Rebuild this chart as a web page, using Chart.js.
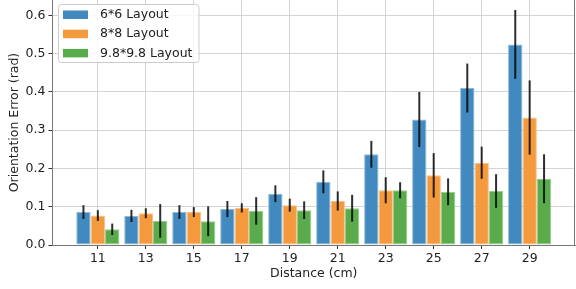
<!DOCTYPE html>
<html>
<head>
<meta charset="utf-8">
<script src="https://cdn.jsdelivr.net/npm/chart.js@4.4.1/dist/chart.umd.min.js"></script>
<style>
  html, body { margin: 0; padding: 0; background: #fff; }
  #wrap { width: 576px; height: 289px; }
</style>
</head>
<body>
<div id="wrap"><canvas id="orientation" width="576" height="289"></canvas></div>
<script>
// distances on the x axis (cm)
const distances = [11, 13, 15, 17, 19, 21, 23, 25, 27, 29];
const seriesNames = ['6*6 Layout', '8*8 Layout', '9.8*9.8 Layout'];

// mean orientation error (rad) and its spread
const layout6 = [0.086, 0.076, 0.086, 0.094, 0.134, 0.165, 0.237, 0.328, 0.410, 0.524];
const layout6Err = [0.018, 0.016, 0.018, 0.021, 0.022, 0.030, 0.035, 0.072, 0.064, 0.090];
const layout8 = [0.077, 0.083, 0.086, 0.097, 0.104, 0.115, 0.143, 0.182, 0.215, 0.333];
const layout8Err = [0.014, 0.013, 0.013, 0.012, 0.017, 0.025, 0.034, 0.058, 0.042, 0.097];
const layout98 = [0.041, 0.063, 0.062, 0.089, 0.091, 0.096, 0.143, 0.139, 0.141, 0.173];
const layout98Err = [0.015, 0.044, 0.039, 0.036, 0.023, 0.035, 0.021, 0.035, 0.044, 0.064];

const yTicks = [0, 0.1, 0.2, 0.3, 0.4, 0.5, 0.6];

const FONT = '"DejaVu Sans", "Liberation Sans", sans-serif';
const textColor = '#222';

const toPoints = (vals) => vals.map((v, i) => ({ x: distances[i], y: v }));

const errorBars = {
  id: 'errorBars',
  afterDatasetsDraw(chart, args, opts) {
    const { ctx } = chart;
    const yScale = chart.scales.y;
    ctx.save();
    ctx.strokeStyle = 'rgba(0,0,0,0.82)';
    ctx.lineWidth = 2;
    chart.data.datasets.forEach((ds, i) => {
      const meta = chart.getDatasetMeta(i);
      meta.data.forEach((bar, j) => {
        const v = ds.data[j].y, e = ds.errors[j];
        ctx.beginPath();
        ctx.moveTo(bar.x, yScale.getPixelForValue(v - e));
        ctx.lineTo(bar.x, yScale.getPixelForValue(v + e));
        ctx.stroke();
      });
    });
    ctx.restore();
  }
};

const frameAndLegend = {
  id: 'frameAndLegend',
  afterDraw(chart) {
    const { ctx, chartArea } = chart;
    ctx.save();
    // right spine
    ctx.strokeStyle = '#777';
    ctx.lineWidth = 1;
    ctx.beginPath();
    ctx.moveTo(chartArea.right - 0.5, chartArea.top);
    ctx.lineTo(chartArea.right - 0.5, chartArea.bottom);
    ctx.stroke();

    // legend inside the axes, upper left
    ctx.font = '12.5px ' + FONT;
    const items = chart.data.datasets;
    const textW = Math.max(...items.map(d => ctx.measureText(d.label).width));
    const x0 = chartArea.left + 5.5, y0 = chartArea.top + 4;
    const w = 42 + textW + 6, h = 58;
    ctx.beginPath();
    ctx.roundRect(x0 + 0.5, y0 + 0.5, w, h, 3);
    ctx.fillStyle = 'rgba(255,255,255,0.8)';
    ctx.fill();
    ctx.strokeStyle = '#cccccc';
    ctx.stroke();
    items.forEach((d, i) => {
      const cy = y0 + 10.5 + i * 19.2;
      ctx.fillStyle = d.backgroundColor;
      ctx.fillRect(x0 + 5, cy - 4, 25, 8.5);
      ctx.fillStyle = textColor;
      ctx.textBaseline = 'middle';
      ctx.textAlign = 'left';
      ctx.fillText(d.label, x0 + 42, cy + 0.5);
    });
    ctx.restore();
  }
};

const barStyle = (fill, edge) => ({
  backgroundColor: fill,
  borderColor: edge,
  borderWidth: 1,
  borderSkipped: false,
  categoryPercentage: 0.9,
  barPercentage: 1.0,
});

new Chart(document.getElementById('orientation').getContext('2d'), {
  type: 'bar',
  data: {
    datasets: [
      { label: seriesNames[0], data: toPoints(layout6), errors: layout6Err, ...barStyle('#4189bf', '#8db8da') },
      { label: seriesNames[1], data: toPoints(layout8), errors: layout8Err, ...barStyle('#f5993d', '#f9c08a') },
      { label: seriesNames[2], data: toPoints(layout98), errors: layout98Err, ...barStyle('#5aab4b', '#98cc8e') },
    ]
  },
  options: {
    responsive: false,
    animation: false,
    layout: { padding: { left: 0, right: 1, top: 0, bottom: 0 } },
    plugins: {
      legend: { display: false },
      tooltip: { enabled: false },
    },
    scales: {
      x: {
        type: 'linear',
        min: 9.11,
        max: 30.89,
        offset: false,
        afterBuildTicks: (scale) => { scale.ticks = distances.map(v => ({ value: v })); },
        afterFit: (scale) => { scale.height = 44; scale.paddingLeft = 0; scale.paddingRight = 0; },
        grid: { offset: false, color: '#d4d4d4', lineWidth: 1, tickColor: '#333', tickLength: 4, drawTicks: true },
        border: { color: '#777', width: 1 },
        ticks: { color: textColor, font: { family: FONT, size: 12.5 }, padding: 2, maxRotation: 0, autoSkip: false },
        title: { display: true, text: 'Distance (cm)', color: textColor, font: { family: FONT, size: 12.5 }, padding: { top: 0, bottom: 8 } },
      },
      y: {
        min: 0,
        max: 0.64,
        afterBuildTicks: (scale) => { scale.ticks = yTicks.map(v => ({ value: v })); },
        afterFit: (scale) => { scale.width = 52.5; scale.paddingTop = 0; scale.paddingBottom = 0; },
        grid: { color: '#d4d4d4', lineWidth: 1, tickColor: '#333', tickLength: 4 },
        border: { color: '#777', width: 1 },
        ticks: { color: textColor, font: { family: FONT, size: 12.5 }, padding: 3, callback: (v) => v.toFixed(1) },
        title: { display: true, text: 'Orientation Error (rad)', color: textColor, font: { family: FONT, size: 12.5 }, padding: { top: 7, bottom: 0 } },
      }
    }
  },
  plugins: [errorBars, frameAndLegend]
});
</script>
</body>
</html>
